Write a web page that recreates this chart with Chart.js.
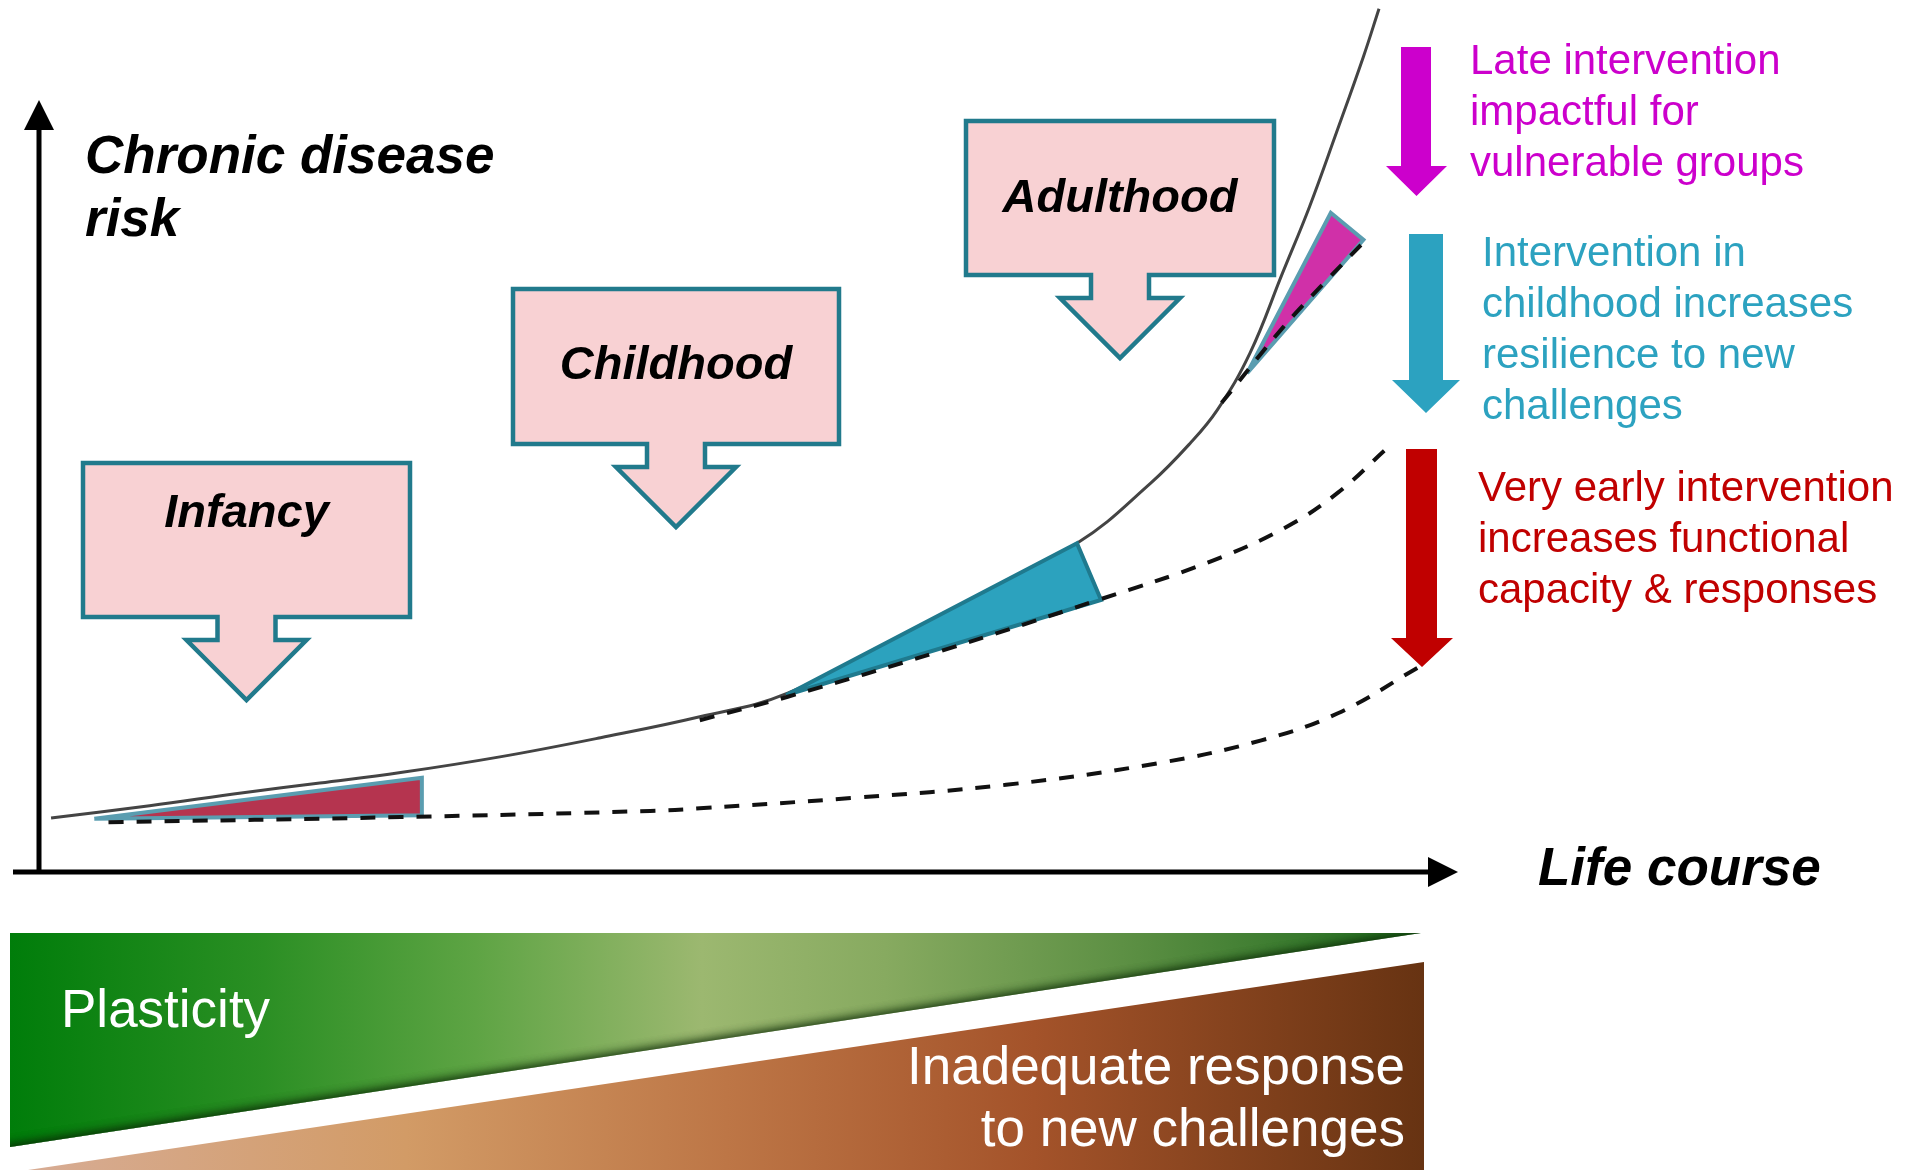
<!DOCTYPE html>
<html>
<head>
<meta charset="utf-8">
<script src="https://cdn.jsdelivr.net/npm/chart.js@4.4.1/dist/chart.umd.min.js"></script>
<style>
  html, body { margin: 0; padding: 0; background: #fff; }
  #wrap { width: 1907px; height: 1170px; }
</style>
</head>
<body>
<div id="wrap"><canvas id="lifeChart" width="1907" height="1170"></canvas></div>
<script>
// x = life course (0-100 along the axis), y = chronic disease risk (0-100)

// solid curve: risk without intervention
var riskX = [0.85, 7.8, 14.4, 19.8, 25.5, 32.5, 39.6, 46.6, 52.8, 63.0, 73.2, 78.4, 81.2, 83.1, 85.4, 87.7, 89.6, 91.5, 93.4, 94.5];
var riskY = [6.2, 7.6, 9.1, 10.2, 11.4, 13.2, 15.4, 17.8, 20.5, 28.9, 37.7, 44.6, 49.2, 53.0, 59.5, 68.7, 76.3, 84.8, 93.5, 99.0];

// dashed curves: risk after intervention
var earlyX = [4.9, 25.5, 43.1, 46.6, 57.4, 68.2, 79.0, 86.2, 91.6, 97.3];
var earlyY = [5.7, 6.3, 7.0, 7.3, 8.5, 10.0, 12.5, 15.1, 18.2, 23.5];
var childX = [46.6, 52.8, 63.5, 74.7, 82.6, 88.0, 91.6, 95.0];
var childY = [17.4, 20.1, 25.3, 31.2, 35.6, 39.6, 43.5, 48.5];
var lateX = [83.4, 87.7, 90.6, 93.4];
var lateY = [53.8, 62.4, 67.5, 72.2];

// wedges showing the gain of each intervention
var infancyWedgeX = [3.9, 27.0, 27.0, 3.9];
var infancyWedgeY = [6.1, 10.8, 6.5, 6.1];
var childWedgeX = [52.7, 73.2, 74.9, 52.7];
var childWedgeY = [20.3, 37.7, 31.2, 20.3];
var adultWedgeX = [85.2, 91.1, 93.4, 85.2];
var adultWedgeY = [57.2, 75.6, 72.5, 57.2];

var stages = ['Infancy', 'Childhood', 'Adulthood'];

function toPts(xs, ys) {
  return xs.map(function (x, i) { return { x: x, y: ys[i] }; });
}

var FONT = '"Liberation Sans", Arial, sans-serif';

// draws a box with a down arrow below it
function callout(ctx, cx, top, w, h, label, textY) {
  var l = cx - w / 2, r = cx + w / 2, b = top + h;
  var sb = b + 23;
  ctx.beginPath();
  ctx.moveTo(l, top);
  ctx.lineTo(r, top);
  ctx.lineTo(r, b);
  ctx.lineTo(cx + 29, b);
  ctx.lineTo(cx + 29, sb);
  ctx.lineTo(cx + 60, sb);
  ctx.lineTo(cx, sb + 60);
  ctx.lineTo(cx - 60, sb);
  ctx.lineTo(cx - 29, sb);
  ctx.lineTo(cx - 29, b);
  ctx.lineTo(l, b);
  ctx.closePath();
  ctx.fillStyle = '#f8d1d3';
  ctx.fill();
  ctx.lineWidth = 4.5;
  ctx.lineJoin = 'miter';
  ctx.strokeStyle = '#217a8c';
  ctx.stroke();
  ctx.fillStyle = '#000';
  ctx.font = 'italic bold 47px ' + FONT;
  ctx.textAlign = 'center';
  ctx.fillText(label, cx, textY);
}

function downArrow(ctx, x1, x2, top, headY, w1, w2, tipY, color) {
  var cx = (w1 + w2) / 2;
  ctx.beginPath();
  ctx.moveTo(x1, top);
  ctx.lineTo(x2, top);
  ctx.lineTo(x2, headY);
  ctx.lineTo(w2, headY);
  ctx.lineTo(cx, tipY);
  ctx.lineTo(w1, headY);
  ctx.lineTo(x1, headY);
  ctx.closePath();
  ctx.fillStyle = color;
  ctx.fill();
}

function textLines(ctx, lines, x, y, step, color) {
  ctx.fillStyle = color;
  ctx.font = '42px ' + FONT;
  ctx.textAlign = 'left';
  lines.forEach(function (t, i) { ctx.fillText(t, x, y + i * step); });
}

var decor = {
  id: 'decor',
  beforeDatasetsDraw: function (chart) {
    var ctx = chart.ctx, a = chart.chartArea;
    ctx.save();

    // plasticity band
    var g = ctx.createLinearGradient(10, 0, 1421, 0);
    g.addColorStop(0, '#007d0a');
    g.addColorStop(0.18, '#2b8f24');
    g.addColorStop(0.33, '#5ea444');
    g.addColorStop(0.49, '#9cb870');
    g.addColorStop(0.62, '#87aa60');
    g.addColorStop(0.8, '#5a8e42');
    g.addColorStop(1, '#1f6a1e');
    ctx.beginPath();
    ctx.moveTo(10, 933);
    ctx.lineTo(1421, 933);
    ctx.lineTo(10, 1147);
    ctx.closePath();
    ctx.fillStyle = g;
    ctx.fill();
    ctx.save();
    ctx.clip();
    ctx.shadowColor = 'rgba(10,40,5,1)';
    ctx.shadowBlur = 12;
    ctx.lineWidth = 8;
    ctx.strokeStyle = '#0a3a0a';
    for (var k = 0; k < 2; k++) {
      ctx.beginPath();
      ctx.moveTo(1430, 937);
      ctx.lineTo(0, 1153);
      ctx.stroke();
    }
    ctx.restore();

    // inadequate response band
    var bg = ctx.createLinearGradient(30, 0, 1424, 0);
    bg.addColorStop(0, '#d7ac94');
    bg.addColorStop(0.27, '#d29b66');
    bg.addColorStop(0.5, '#bd7646');
    bg.addColorStop(0.72, '#a4532a');
    bg.addColorStop(1, '#673312');
    ctx.beginPath();
    ctx.moveTo(1424, 962);
    ctx.lineTo(1424, 1170);
    ctx.lineTo(28, 1170);
    ctx.closePath();
    ctx.fillStyle = bg;
    ctx.fill();

    ctx.fillStyle = '#fff';
    ctx.font = '53px ' + FONT;
    ctx.textAlign = 'left';
    ctx.fillText('Plasticity', 61, 1027);
    ctx.textAlign = 'right';
    ctx.fillText('Inadequate response', 1405, 1084);
    ctx.fillText('to new challenges', 1405, 1146);

    // axes with arrow heads
    ctx.fillStyle = '#000';
    ctx.strokeStyle = '#000';
    ctx.lineWidth = 5;
    ctx.beginPath();
    ctx.moveTo(a.left, a.bottom + 2);
    ctx.lineTo(a.left, 126);
    ctx.moveTo(13, a.bottom);
    ctx.lineTo(a.right - 26, a.bottom);
    ctx.stroke();
    ctx.beginPath();
    ctx.moveTo(a.left - 15, 130);
    ctx.lineTo(a.left + 15, 130);
    ctx.lineTo(a.left, 100);
    ctx.closePath();
    ctx.fill();
    ctx.beginPath();
    ctx.moveTo(a.right - 29, a.bottom - 15);
    ctx.lineTo(a.right - 29, a.bottom + 15);
    ctx.lineTo(a.right + 1, a.bottom);
    ctx.closePath();
    ctx.fill();

    ctx.font = 'italic bold 53px ' + FONT;
    ctx.textAlign = 'left';
    ctx.fillText('Chronic disease', 85, 173);
    ctx.fillText('risk', 85, 236);
    ctx.fillText('Life course', 1538, 885);
    ctx.restore();
  },
  afterDatasetsDraw: function (chart) {
    var ctx = chart.ctx;
    ctx.save();
    callout(ctx, 246.5, 463, 327, 154, stages[0], 527);
    callout(ctx, 676, 289, 326, 155, stages[1], 379);
    callout(ctx, 1120, 121, 308, 154, stages[2], 212);

    downArrow(ctx, 1401, 1431, 47, 166, 1386, 1447, 196, '#cc00cc');
    downArrow(ctx, 1409, 1443, 234, 380, 1392, 1460, 413, '#2ca2c0');
    downArrow(ctx, 1406, 1437, 449, 638, 1391, 1453, 667, '#c00000');

    textLines(ctx, ['Late intervention', 'impactful for', 'vulnerable groups'], 1470, 74, 51, '#cc00cc');
    textLines(ctx, ['Intervention in', 'childhood increases', 'resilience to new', 'challenges'], 1482, 266, 51, '#2ca2c0');
    textLines(ctx, ['Very early intervention', 'increases functional', 'capacity & responses'], 1478, 501, 51, '#c00000');
    ctx.restore();
  }
};

function dashed(label, xs, ys) {
  return {
    label: label,
    data: toPts(xs, ys),
    borderColor: '#111',
    borderWidth: 4,
    borderDash: [15, 13],
    pointRadius: 0,
    tension: 0.4,
    fill: false,
    order: 1
  };
}

function wedge(label, xs, ys, fillColor, edge) {
  return {
    label: label,
    data: toPts(xs, ys),
    backgroundColor: fillColor,
    borderColor: edge,
    borderWidth: 4,
    borderJoinStyle: 'miter',
    pointRadius: 0,
    tension: 0,
    fill: 'shape',
    order: 2
  };
}

var ctx = document.getElementById('lifeChart').getContext('2d');
var chart = new Chart(ctx, {
  type: 'line',
  data: {
    datasets: [
      {
        label: 'Risk',
        data: toPts(riskX, riskY),
        borderColor: '#444',
        borderWidth: 3,
        pointRadius: 0,
        tension: 0.4,
        fill: false,
        order: 3
      },
      dashed('Very early intervention', earlyX, earlyY),
      dashed('Childhood intervention', childX, childY),
      dashed('Late intervention', lateX, lateY),
      wedge('Infancy gain', infancyWedgeX, infancyWedgeY, '#b5344f', '#5a9db0'),
      wedge('Childhood gain', childWedgeX, childWedgeY, '#2ca2be', '#1f7a8e'),
      wedge('Adulthood gain', adultWedgeX, adultWedgeY, '#d030a8', '#5a9db0')
    ]
  },
  options: {
    responsive: false,
    animation: false,
    layout: { padding: { left: 39, right: 450, top: 0, bottom: 298 } },
    plugins: { legend: { display: false }, tooltip: { enabled: false } },
    scales: {
      x: { type: 'linear', min: 0, max: 100, display: false },
      y: { type: 'linear', min: 0, max: 100, display: false }
    }
  },
  plugins: [decor]
});
</script>
</body>
</html>
